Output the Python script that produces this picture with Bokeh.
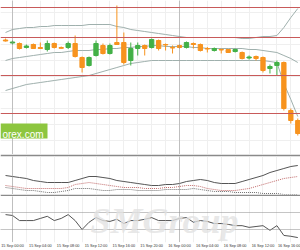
from bokeh.plotting import figure
from bokeh.layouts import column
from bokeh.models import Range1d, FixedTicker, Span, Label, BoxAnnotation, ColumnDataSource
from bokeh.embed import file_html
from bokeh.resources import INLINE

# ---------------- data ----------------
hours = list(range(-1, 42))  # hours since 15 Sep 00:00 (hourly candles)

open_ = [1.13605, 1.13575, 1.1357, 1.1353, 1.1356, 1.1353, 1.1351, 1.1357, 1.1353, 1.1353,
         1.1357, 1.1343, 1.1335, 1.1345, 1.1355, 1.1347, 1.1358, 1.1358, 1.1340, 1.1352,
         1.1355, 1.1353, 1.1360, 1.1356, 1.1353, 1.1355, 1.1353, 1.1357, 1.1356, 1.1352,
         1.1350, 1.1351, 1.1351, 1.1349, 1.1348, 1.13425, 1.1344, 1.1343, 1.1332, 1.1335,
         1.1338, 1.1290, 1.1280]
high = [1.1362, 1.1360, 1.1358, 1.1356, 1.1357, 1.1358, 1.1360, 1.1358, 1.1354, 1.1359,
        1.1365, 1.1344, 1.1344, 1.1360, 1.1357, 1.1357, 1.1395, 1.1368, 1.1358, 1.1358,
        1.1356, 1.1362, 1.1361, 1.1357, 1.1355, 1.1356, 1.1359, 1.1358, 1.1357, 1.13535,
        1.1353, 1.1352, 1.13515, 1.1352, 1.1349, 1.1345, 1.1345, 1.1344, 1.1336, 1.1340,
        1.1339, 1.1292, 1.1282]
low = [1.1359, 1.1356, 1.1351, 1.1352, 1.13515, 1.13515, 1.1349, 1.1352, 1.1352, 1.13515,
       1.1343, 1.1328, 1.1334, 1.1344, 1.1346, 1.1346, 1.13555, 1.1336, 1.1335, 1.1345,
       1.1345, 1.1352, 1.1350, 1.1350, 1.1347, 1.1352, 1.1352, 1.1352, 1.1349, 1.1348,
       1.1349, 1.1347, 1.13475, 1.1348, 1.1341, 1.1341, 1.1340, 1.1328, 1.1327, 1.1325,
       1.1290, 1.1277, 1.1265]
close = [1.13595, 1.13585, 1.1352, 1.13545, 1.1352, 1.1352, 1.1357, 1.1353, 1.13522, 1.1357,
         1.1344, 1.1333, 1.1343, 1.1357, 1.1347, 1.1355, 1.1356, 1.1338, 1.1352, 1.1355,
         1.1352, 1.1361, 1.1352, 1.13555, 1.13525, 1.1353, 1.1358, 1.1356, 1.1350, 1.13515,
         1.1352, 1.13505, 1.1348, 1.1351, 1.1342, 1.13435, 1.1342, 1.1330, 1.1334, 1.1338,
         1.1292, 1.1280, 1.1267]

bb_upper = [1.1368, 1.1371, 1.1372, 1.1373, 1.1373, 1.1374, 1.1374, 1.1375, 1.1375, 1.1375,
            1.1375, 1.1375, 1.1376, 1.1376, 1.1376, 1.1376, 1.1374, 1.1373, 1.1371, 1.1370,
            1.1369, 1.1368, 1.1367, 1.1366, 1.1365, 1.1364, 1.1363, 1.1363, 1.1363, 1.1363,
            1.1363, 1.1363, 1.1363, 1.1363, 1.1362, 1.1362, 1.1363, 1.1364, 1.1364, 1.1365,
            1.1373, 1.1383, 1.1392]
bb_mid = [1.1340, 1.1342, 1.1343, 1.1344, 1.1345, 1.1346, 1.1347, 1.1348, 1.1348, 1.1349,
          1.1350, 1.1350, 1.1350, 1.1351, 1.1351, 1.1352, 1.1352, 1.1353, 1.1353, 1.1354,
          1.1354, 1.1355, 1.1355, 1.1354, 1.1354, 1.1354, 1.1354, 1.1353, 1.1353, 1.1352,
          1.1352, 1.1352, 1.1352, 1.1352, 1.1352, 1.1351, 1.1351, 1.1350, 1.1349, 1.1348,
          1.1345, 1.1342, 1.1338]
bb_lower = [1.1310, 1.1312, 1.1314, 1.1316, 1.1317, 1.1318, 1.1319, 1.1320, 1.1321, 1.1322,
            1.1323, 1.1324, 1.1325, 1.1327, 1.1329, 1.1331, 1.1333, 1.1335, 1.1337, 1.1338,
            1.1339, 1.1340, 1.1340, 1.1340, 1.1340, 1.1340, 1.1340, 1.1340, 1.1340, 1.1340,
            1.1340, 1.1340, 1.1340, 1.1340, 1.1340, 1.1340, 1.1340, 1.1340, 1.1339, 1.1338,
            1.1317, 1.1301, 1.1284]

levels = [1.1393, 1.1363, 1.1325, 1.1287]

ind_main = [0.0025, 0.0024, 0.0023, 0.0022, 0.0020, 0.0019, 0.0018, 0.0018, 0.0018, 0.0018,
            0.0020, 0.0022, 0.0024, 0.0024, 0.0023, 0.0022, 0.0020, 0.0019, 0.0018, 0.0017,
            0.0016, 0.0015, 0.0015, 0.0016, 0.0016, 0.0017, 0.0019, 0.0020, 0.0021, 0.0020,
            0.0018, 0.0017, 0.0017, 0.0017, 0.0019, 0.0021, 0.0023, 0.0025, 0.0028, 0.0030,
            0.0032, 0.0034, 0.0035]
ind_red = [0.0015, 0.0014, 0.0013, 0.0012, 0.0012, 0.0012, 0.0012, 0.0012, 0.0012, 0.0013,
           0.0016, 0.0017, 0.0018, 0.0017, 0.0016, 0.0015, 0.0014, 0.0013, 0.0013, 0.0013,
           0.0012, 0.0012, 0.0012, 0.0013, 0.0013, 0.0014, 0.0015, 0.0015, 0.0014, 0.0012,
           0.0011, 0.0010, 0.0010, 0.0010, 0.0011, 0.0012, 0.0014, 0.0016, 0.0018, 0.0020,
           0.0022, 0.0023, 0.0024]
ind_gray = [0.0013, 0.0012, 0.0011, 0.0010, 0.0010, 0.0009, 0.0008, 0.0008, 0.0009, 0.0010,
            0.0012, 0.0012, 0.0012, 0.0011, 0.0010, 0.0010, 0.0011, 0.0011, 0.0011, 0.0010,
            0.0010, 0.0010, 0.0010, 0.0011, 0.0011, 0.0011, 0.0011, 0.0012, 0.0011, 0.0010,
            0.0009, 0.0009, 0.0009, 0.0008, 0.0008, 0.0008, 0.0008, 0.0007, 0.0007, 0.0007,
            0.0006, 0.0006, 0.0006]

osc = [65, 63, 51, 51, 51, 56, 61, 51, 56, 65,
       51, 30, 47, 58, 51, 49, 54, 44, 51, 51,
       54, 58, 51, 51, 51, 56, 58, 47, 51, 49,
       44, 44, 42, 39, 39, 35, 37, 39, 28, 39,
       16, 14, 11]
osc_levels = [70, 30]

tick_hours = [-4, 0, 4, 8, 12, 16, 20, 24, 28, 32, 36, 40]
tick_labels = ["14 Sep 20:00", "15 Sep 00:00", "15 Sep 04:00", "15 Sep 08:00", "15 Sep 12:00",
               "15 Sep 16:00", "15 Sep 20:00", "16 Sep 00:00", "16 Sep 04:00", "16 Sep 08:00",
               "16 Sep 12:00", "16 Sep 16:00"]
day_breaks = [0, 24]
grid_hours = list(range(-2, 44, 2))

# ---------------- style ----------------
UP = "#43b047"
DOWN = "#f7931e"
BAND = "#9fb0ad"
LEVEL = "#c85a5a"
GRID = "#efefef"
SEP = "#8a8a8a"

xr = Range1d(-1.725, 41.39)


def panel(height, yr, **kw):
    p = figure(width=300, height=height, x_range=xr, y_range=yr, output_backend="svg",
               toolbar_location=None, min_border=0, **kw)
    p.outline_line_color = None
    p.background_fill_color = "white"
    p.xgrid.ticker = FixedTicker(ticks=grid_hours)
    p.xgrid.grid_line_color = GRID
    p.ygrid.grid_line_color = GRID
    for d in day_breaks:
        p.add_layout(Span(location=d, dimension="height", line_color="#8f8f8f",
                          line_dash="1 1", line_width=1))
    return p


# main price panel
p1 = panel(154, Range1d(1.1246, 1.1400), x_axis_location=None, y_axis_location=None)
p1.ygrid.ticker = FixedTicker(ticks=[1.1388, 1.1372, 1.1356, 1.1340, 1.1324, 1.1308,
                                     1.1292, 1.1276, 1.1260])

src = ColumnDataSource(dict(
    x=hours, o=open_, h=high, l=low, c=close,
    top=[max(a, b) for a, b in zip(open_, close)],
    bot=[min(a, b) for a, b in zip(open_, close)],
    col=[UP if c >= o else DOWN for o, c in zip(open_, close)],
))

p1.line(hours, bb_upper, line_color=BAND, line_width=1)
p1.line(hours, bb_mid, line_color=BAND, line_width=1)
p1.line(hours, bb_lower, line_color=BAND, line_width=1)
for lv in levels:
    p1.add_layout(Span(location=lv, dimension="width", line_color=LEVEL, line_width=1))

p1.segment(x0="x", x1="x", y0="h", y1="l", line_color="col", line_width=1, source=src)
p1.vbar(x="x", width=0.62, top="top", bottom="bot", fill_color="col", line_color="col",
        line_width=1, source=src)

p1.add_layout(BoxAnnotation(left=-1.725, right=5.03, top=1.1277, bottom=1.1262,
                            fill_color="#8dc63f", fill_alpha=1.0, line_color=None))
p1.add_layout(Label(x=-1.45, y=1.12665, text="orex.com", text_color="white",
                    text_font="Liberation Sans", text_font_size="10px",
                    text_baseline="middle", text_align="left"))

# indicator panel
p2 = panel(42, Range1d(0.0006, 0.0044), x_axis_location=None, y_axis_location=None)
p2.min_border_top = 2
p2.min_border_bottom = 2
p2.border_fill_color = SEP
p2.ygrid.grid_line_color = None
p2.line(hours, ind_main, line_color="#555555", line_width=1)
p2.line(hours, ind_red, line_color="#c26a6a", line_width=1, line_dash="1 1")
p2.line(hours, ind_gray, line_color="#707070", line_width=1, line_dash="1 1")

# oscillator panel
p3 = panel(54, Range1d(-0.6, 107.6), y_axis_location=None)
p3.min_border_bottom = 8
p3.ygrid.grid_line_color = None
for lv in osc_levels:
    p3.add_layout(Span(location=lv, dimension="width", line_color="#8a8a8a",
                       line_dash="1 1", line_width=1))
p3.add_layout(Label(x=11.2, y=2, text="SMGroup", text_color="#e2e2e2", text_alpha=0.8,
                    text_font="Liberation Serif", text_font_style="bold italic",
                    text_font_size="36px", text_baseline="bottom", text_align="left",
                    border_line_color=None))
p3.line(hours, osc, line_color="#555555", line_width=1)

ax = p3.xaxis[0]
ax.ticker = FixedTicker(ticks=tick_hours)
ax.major_label_overrides = {t: s for t, s in zip(tick_hours, tick_labels)}
ax.major_label_text_align = "left"
ax.major_label_text_font = "'Liberation Sans Narrow', 'Liberation Sans'"
ax.major_label_text_font_size = "3.8px"
ax.major_label_text_color = "#333333"
ax.major_label_standoff = 1
ax.major_tick_out = 0
ax.major_tick_in = 0
ax.minor_tick_out = 0
ax.minor_tick_in = 0
ax.axis_line_color = None

layout = column(p1, p2, p3, spacing=0)
open("out.html", "w").write(file_html(layout, INLINE))
